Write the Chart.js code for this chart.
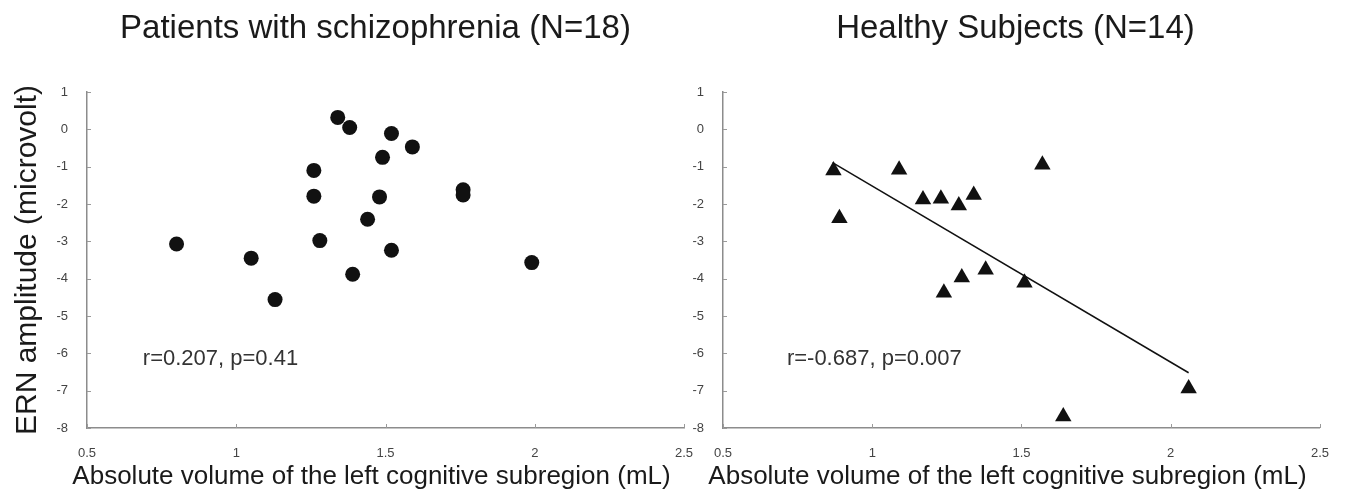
<!DOCTYPE html>
<html lang="en">
<head>
	<meta charset="utf-8" />
	<title>ERN amplitude vs left cognitive subregion volume</title>
	<script src="https://cdn.jsdelivr.net/npm/chart.js@4.4.1/dist/chart.umd.min.js"></script>
	<style>
		body { margin: 0; background: #fff; }
		#wrap { position: relative; width: 1347px; height: 495px; }
		canvas { position: absolute; top: 0; }
		#c1 { left: 0; }
		#c2 { left: 685px; }
	</style>
</head>
<body>
	<div id="wrap">
		<canvas id="c1" width="750" height="495"></canvas>
		<canvas id="c2" width="662" height="495"></canvas>
	</div>
	<script>
	// patients with schizophrenia, one entry per subject
	var schizoVolume = [0.80, 1.05, 1.13, 1.26, 1.26, 1.28, 1.34, 1.38, 1.39, 1.44, 1.48, 1.49, 1.52, 1.52, 1.59, 1.76, 1.76, 1.99];
	var schizoErn    = [-3.07, -3.45, -4.56, -1.10, -1.79, -2.98, 0.32, 0.05, -3.88, -2.41, -1.81, -0.75, -0.11, -3.24, -0.47, -1.62, -1.76, -3.57];

	// healthy subjects
	var healthyVolume = [0.87, 0.89, 1.09, 1.17, 1.23, 1.24, 1.29, 1.30, 1.34, 1.38, 1.51, 1.57, 1.64, 2.06];
	var healthyErn    = [-1.10, -2.38, -1.08, -1.88, -1.86, -4.38, -2.04, -3.97, -1.76, -3.76, -4.11, -0.95, -7.69, -6.94];

	// regression line end points (healthy)
	var fitVolume = [0.867, 2.06];
	var fitErn    = [-0.89, -6.52];

	var xTicks = [0.5, 1, 1.5, 2, 2.5];
	var yTicks = [1, 0, -1, -2, -3, -4, -5, -6, -7, -8];

	var xTitle = 'Absolute volume of the left cognitive subregion (mL)';
	var yTitle = 'ERN amplitude (microvolt)';

	var FONT = "'Liberation Sans', Arial, Helvetica, sans-serif";

	function points(xs, ys)
	{
		return xs.map(function(x, i) { return {x: x, y: ys[i]}; });
	}

	// panel title, short inner tick marks, r/p text, x axis title
	var extras = {
		id: 'extras',
		afterDraw: function(chart, args, opts) {
			var ctx = chart.ctx;
			var xs = chart.scales.x, ys = chart.scales.y;
			var area = chart.chartArea;
			var mid = (area.left + area.right) / 2;
			ctx.save();
			ctx.strokeStyle = '#9a9a9a';
			ctx.lineWidth = 1;
			ctx.beginPath();
			xTicks.forEach(function(v) {
				var px = Math.round(xs.getPixelForValue(v)) + 0.5;
				ctx.moveTo(px, area.bottom);
				ctx.lineTo(px, area.bottom - 4);
			});
			yTicks.forEach(function(v) {
				var py = Math.round(ys.getPixelForValue(v)) + 0.5;
				ctx.moveTo(area.left, py);
				ctx.lineTo(area.left + 4, py);
			});
			ctx.stroke();

			ctx.textBaseline = 'middle';
			ctx.fillStyle = '#1a1a1a';
			ctx.textAlign = 'center';
			ctx.font = '33px ' + FONT;
			ctx.fillText(opts.title, mid + opts.titleShift, 29);

			ctx.font = '26px ' + FONT;
			ctx.fillText(xTitle, mid - 14, 477);

			ctx.fillStyle = '#333';
			ctx.font = '22px ' + FONT;
			ctx.textAlign = 'left';
			ctx.fillText(opts.stat, xs.getPixelForValue(opts.statX), ys.getPixelForValue(opts.statY));
			ctx.restore();
		}
	};

	function makeConfig(title, titleShift, datasets, yWidth, padRight, showYTitle, stat, statX)
	{
		return {
			type: 'scatter',
			data: { datasets: datasets },
			plugins: [extras],
			options: {
				responsive: false,
				animation: false,
				layout: { padding: { left: 0, right: padRight, top: 92, bottom: 0 } },
				plugins: {
					legend: { display: false },
					tooltip: { enabled: false },
					title: { display: false },
					extras: { title: title, titleShift: titleShift, stat: stat, statX: statX, statY: -6.15 }
				},
				scales: {
					x: {
						type: 'linear',
						min: 0.5,
						max: 2.5,
						afterBuildTicks: function(scale) {
							scale.ticks = xTicks.map(function(v) { return {value: v}; });
						},
						afterFit: function(scale) { scale.height = 67; },
						grid: { display: false, drawTicks: false },
						border: { color: '#8c8c8c', width: 1.5 },
						ticks: {
							padding: 18,
							color: '#444',
							font: { family: FONT, size: 13 },
							callback: function(v) { return String(v); }
						}
					},
					y: {
						type: 'linear',
						min: -8,
						max: 1,
						afterBuildTicks: function(scale) {
							scale.ticks = yTicks.map(function(v) { return {value: v}; });
						},
						afterFit: function(scale) { scale.width = yWidth; },
						grid: { display: false, drawTicks: false },
						border: { color: '#8c8c8c', width: 1.5 },
						title: {
							display: showYTitle,
							text: yTitle,
							color: '#1a1a1a',
							font: { family: FONT, size: 30 },
							padding: { top: 10, bottom: 0 }
						},
						ticks: {
							padding: 19,
							color: '#444',
							font: { family: FONT, size: 13 }
						}
					}
				}
			}
		};
	}

	var left = new Chart(document.getElementById('c1'), makeConfig(
		'Patients with schizophrenia (N=18)', -10,
		[{
			label: 'patients',
			data: points(schizoVolume, schizoErn),
			pointStyle: 'circle',
			pointRadius: 7.5,
			backgroundColor: '#111',
			borderColor: '#111',
			borderWidth: 0
		}],
		87, 66, true, 'r=0.207, p=0.41', 0.687
	));

	var right = new Chart(document.getElementById('c2'), makeConfig(
		'Healthy Subjects (N=14)', -6,
		[{
			label: 'fit',
			type: 'line',
			data: points(fitVolume, fitErn),
			borderColor: '#111',
			borderWidth: 1.5,
			pointRadius: 0,
			fill: false
		}, {
			label: 'healthy',
			data: points(healthyVolume, healthyErn),
			pointStyle: 'triangle',
			pointRadius: 9.5,
			backgroundColor: '#111',
			borderColor: '#111',
			borderWidth: 0
		}],
		38, 26, false, 'r=-0.687, p=0.007', 0.714
	));
	</script>
</body>
</html>
